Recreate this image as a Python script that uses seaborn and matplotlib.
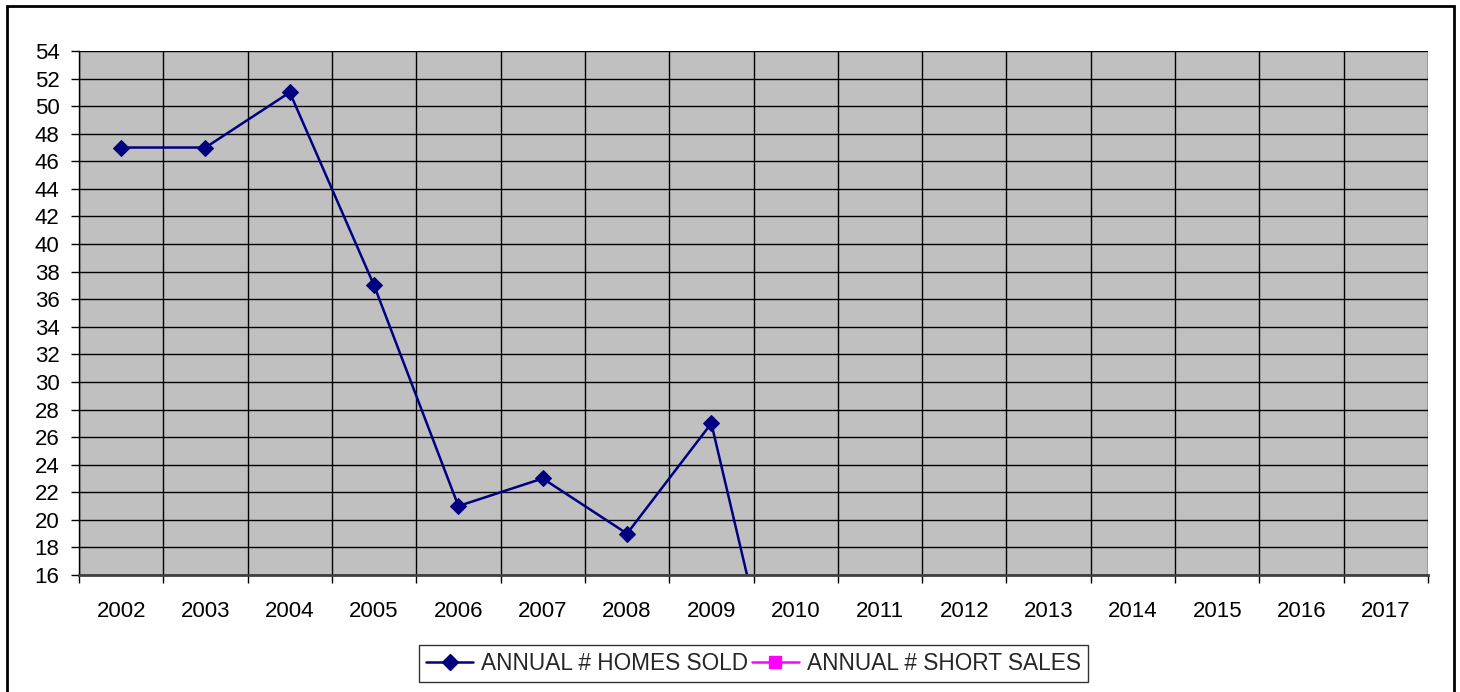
import numpy as np
import pandas as pd
import seaborn as sns
import matplotlib
matplotlib.use("Agg")
import matplotlib.pyplot as plt
from matplotlib.lines import Line2D
from matplotlib.patches import Rectangle

years = ["2002", "2003", "2004", "2005", "2006", "2007", "2008", "2009",
         "2010", "2011", "2012", "2013", "2014", "2015", "2016", "2017"]
homes_sold = [47, 47, 51, 37, 21, 23, 19, 27, 1,
              np.nan, np.nan, np.nan, np.nan, np.nan, np.nan, np.nan]
short_sales = [np.nan] * 16
y_ticks = list(range(16, 55, 2))

sns.set_theme(style="white")
plt.rcParams["font.family"] = ["Liberation Sans", "DejaVu Sans"]

fig = plt.figure(figsize=(14.6, 6.92), dpi=100)
ax = fig.add_axes([79 / 1460, 1 - 575 / 692, (1428 - 79) / 1460, (575 - 51) / 692])
ax.set_facecolor("#C0C0C0")

df = pd.DataFrame({"pos": np.arange(len(years)), "homes": homes_sold, "short": short_sales})
sns.lineplot(data=df, x="pos", y="homes", ax=ax, color="#000080", linewidth=1.8,
             marker="D", markersize=8.5, markeredgecolor="#000080", legend=False)
ax.plot(df["pos"], df["short"], color="#FF00FF", linewidth=1.8, marker="s", markersize=8)

ax.set_xlim(-0.5, len(years) - 0.5)
ax.set_ylim(16, 54)
ax.set_yticks(y_ticks)
ax.set_yticklabels([str(v) for v in y_ticks], fontsize=16)
ax.set_xticks(np.arange(len(years)))
ax.set_xticklabels(years, fontsize=16)
ax.set_xticks(np.arange(-0.5, len(years)), minor=True)
ax.tick_params(axis="x", which="major", length=0, pad=19, colors="black")
ax.tick_params(axis="x", which="minor", length=6, width=1, color="black", bottom=True)
ax.tick_params(axis="y", which="major", length=6, width=1, color="black", left=True, pad=8, colors="black")
ax.set_xlabel("")
ax.set_ylabel("")

for v in y_ticks:
    ax.axhline(v, color="black", linewidth=1, zorder=0.5)
for x in np.arange(-0.5, len(years)):
    ax.axvline(x, color="black", linewidth=1, zorder=0.5)

for s in ["top", "right"]:
    ax.spines[s].set_visible(False)
ax.spines["left"].set_color("black")
ax.spines["bottom"].set_color("#404040")
ax.spines["bottom"].set_linewidth(2)
ax.spines["left"].set_linewidth(1)

handles = [Line2D([], [], color="#000080", linewidth=1.8, marker="D", markersize=8.5),
           Line2D([], [], color="#FF00FF", linewidth=1.8, marker="s", markersize=8)]
leg = ax.legend(handles, ["ANNUAL # HOMES SOLD", "ANNUAL # SHORT SALES"],
                loc="upper center", bbox_to_anchor=(0.5, -0.1336), ncol=2,
                fontsize=16.3, frameon=True, fancybox=False, handlelength=2.08,
                handletextpad=0.35, columnspacing=0.15, borderpad=0.32,
                borderaxespad=0)
leg.get_frame().set_edgecolor("black")
leg.get_frame().set_linewidth(1)

fig.patches.append(Rectangle((6.5 / 1460, -0.1), (1454 - 6.5) / 1460, 1.1 - 5.5 / 692,
                             transform=fig.transFigure, fill=False,
                             edgecolor="black", linewidth=2))

fig.savefig("out.png", dpi=100)
